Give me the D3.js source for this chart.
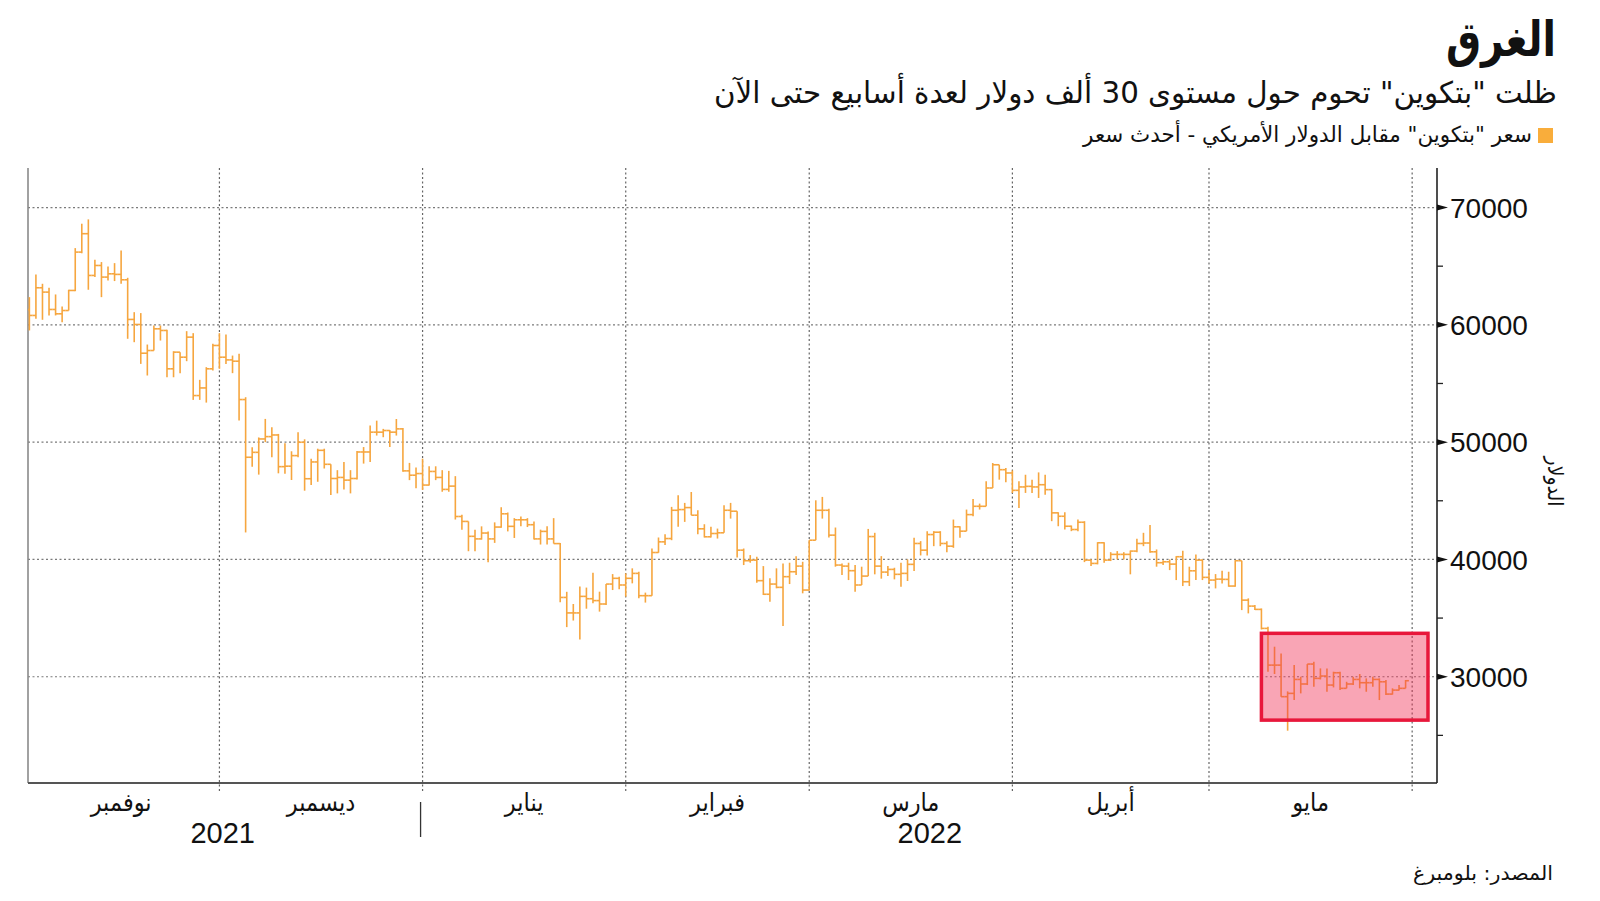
<!DOCTYPE html>
<html>
<head>
<meta charset="utf-8">
<script src="https://cdn.jsdelivr.net/npm/d3@7"></script>
<style>
  body { margin: 0; background: #fff; }
  svg { display: block; }
  .ar { font-family: "DejaVu Sans Condensed", "DejaVu Sans", sans-serif; font-stretch: condensed; }
  .num { font-family: "Liberation Sans", Arial, sans-serif; }
</style>
</head>
<body>
<svg id="chart" width="1600" height="901"></svg>
<script>
// ---- data: daily bitcoin price bars (1 Nov 2021 -> 30 May 2022)
const firstDay = "2021-11-01";

const open = [
  61300,60800,63160,62790,61310,60940,61220,62930,66200,67770,64210,65060,64070,64350,64300,63840,60460,60030,57580,57810,59660,59520,56250,57670,57240,58950,53970,54620,56250,58240,
  57240,57010,56900,53630,48710,49130,50270,50470,50610,47910,47950,48850,49990,46880,48310,49300,48110,46900,46990,46760,46900,49160,49160,50850,50850,50990,50850,51130,47550,47180,47320,
  46340,47500,46990,45970,46250,43660,43240,41970,41750,42250,41750,42760,43890,42820,43380,43380,42960,41750,42390,41750,41350,36760,35440,35440,36850,36650,36490,36200,37900,38390,37820,
  38390,38810,36910,36910,40590,41500,41780,44190,44250,44420,43770,42610,41930,42210,42270,44190,44110,40790,39890,39940,38190,37030,37900,37620,38530,38950,39430,37390,
  41640,44190,44190,42070,39520,39430,39040,37820,38580,41950,39430,38920,39150,38730,38810,39580,41360,40790,42120,42320,41360,41130,42780,42410,43820,44530,44530,46090,48070,47650,47370,
  45890,46180,46230,46180,46370,45950,43970,43680,42830,42550,43170,39940,39660,41420,39940,40430,40430,40430,40710,41360,41400,40650,39720,39800,39600,40230,38100,39030,39940,38470,
  38240,38320,38300,37730,39890,36530,36020,35740,34120,30990,30990,28300,28580,29770,29380,31080,29860,30060,29290,30340,29010,29380,29770,29490,29490,29770,29570,28520,28860,29010
];
const high = [
  62360,64300,63500,63160,62590,61570,62990,66540,68620,68990,65550,65350,64980,65260,66340,64010,61080,61000,58320,59940,59940,59570,57750,57670,59460,59290,55310,56390,58380,59290,
  59180,57380,57530,53830,49560,50400,51980,51270,50700,49900,49220,50840,50240,48590,49440,49440,48110,47610,48310,47610,49240,49580,51410,51830,51130,51040,51970,51210,48230,47830,48590,
  47940,47940,47610,47550,47100,43800,43240,42540,42820,42390,43160,44450,44000,43520,43660,43520,43240,42540,42820,43520,41410,37240,36200,37690,37600,38870,37250,37900,38750,38530,38810,
  39240,38950,37170,40930,41870,42150,44480,45470,44820,45750,44190,43000,42780,42630,44620,44820,44110,40930,40370,40230,39430,38390,39240,39660,39720,40280,39800,41640,
  45040,45330,44330,42720,39660,39720,39520,39380,42600,42270,40280,39430,39290,39720,40000,41840,41560,42410,42410,42410,41560,43400,42830,44250,45160,44760,46660,48220,48070,47790,47590,
  46660,47220,46800,47420,47220,46010,44020,44020,42890,43400,43260,40000,41470,41470,40620,40710,40620,40760,41760,42270,42930,40850,39940,40000,40280,40740,39380,40430,40000,39090,
  38750,39030,38950,39940,39890,36680,36110,35820,34260,32560,31990,28750,30990,30000,31080,31280,30710,30710,30430,30430,29570,30000,30230,29860,30000,29860,29720,29010,29290,29720
];
const low = [
  59520,60510,60430,60800,60800,60230,61220,62870,66100,62990,64070,62360,63780,63730,63500,58810,58520,56670,55680,57810,58660,55530,55530,55880,56900,53600,53600,53370,56100,56250,
  56670,55880,51840,42300,47910,47230,50000,48710,47340,47300,46770,48710,45860,46340,46620,47750,45490,45630,45970,45630,46820,48170,48310,50560,50420,49580,50560,47470,46760,46060,45920,
  46300,46760,45770,45770,43400,42540,40700,40700,41690,39770,41410,42700,42390,41830,42820,42760,41690,41270,41270,41350,36340,34230,34790,33180,35800,36260,35550,36120,37390,37450,36830,
  37960,36690,36320,36910,40570,41220,41640,42780,43200,43770,42150,41870,41870,41780,42270,43480,40170,39520,39720,38020,36970,36400,37540,34330,37900,38670,37110,37340,
  41640,43480,41870,39380,38670,38240,37250,37820,38580,38730,38360,38580,38300,37680,38160,39010,40340,40340,41130,41130,40620,40990,41840,42410,43680,44250,44530,46090,46800,46570,45670,
  44390,45670,45670,45240,45520,43260,42830,42550,42410,42410,39770,39430,39580,39720,39860,40000,40000,38730,40620,41130,40570,39380,39520,39090,38240,37730,37730,38240,38240,37950,
  37530,37950,37670,37670,35680,35400,35680,34030,30430,30230,28300,25400,28010,28580,29290,29150,29770,28720,29090,28860,29010,29290,29010,28720,29150,28010,28440,28480,28820,29010
];
const close = [
  60800,63160,62790,61310,60940,61220,62930,66200,67770,64210,65060,64070,64350,64300,63840,60460,60030,57580,57810,59660,59520,56250,57670,57240,58950,53970,54620,56250,58240,57240,
  57010,56900,53630,48710,49130,50270,50470,50610,47910,47950,48850,49990,46880,48310,49300,48110,46900,46990,46760,46900,49160,49160,50850,50850,50990,50850,51130,47550,47180,47320,46340,
  47500,46990,45970,46250,43660,43240,41970,41750,42250,41750,42760,43890,42820,43380,43380,42960,41750,42390,41750,41350,36760,35440,35440,36850,36650,36490,36200,37900,38390,37820,38390,
  38810,36910,36910,40590,41500,41780,44190,44250,44420,43770,42610,41930,42210,42270,44190,44110,40790,39890,39940,38190,37030,37900,37620,38530,38950,39430,37390,41640,
  44190,44190,42070,39520,39430,39040,37820,38580,41950,39430,38920,39150,38730,38810,39580,41360,40790,42120,42320,41360,41130,42780,42410,43820,44530,44530,46090,48070,47650,47370,45890,
  46180,46230,46180,46370,45950,43970,43680,42830,42550,43170,39940,39660,41420,39940,40430,40430,40430,40710,41360,41400,40650,39720,39800,39600,40230,38100,39030,39940,38470,38240,
  38320,38300,37730,39890,36530,36020,35740,34120,30990,30990,28300,28580,29770,29380,31080,29860,30060,29290,30340,29010,29380,29770,29490,29490,29770,29570,28520,28860,29010,29660
];

const monthNames = ["نوفمبر", "ديسمبر", "يناير", "فبراير", "مارس", "أبريل", "مايو"];
const yearNames = ["2021", "2022"];
const yTicks = [30000, 40000, 50000, 60000, 70000];
const yMinorTicks = [25000, 35000, 45000, 55000, 65000];
// the red "stuck around 30k" window
const boxFrom = "2022-05-09", boxTo = "2022-06-03", boxLow = 26300, boxHigh = 33700;

const title = "الغرق";
const subtitle = "ظلت \"بتكوين\" تحوم حول مستوى 30 ألف دولار لعدة أسابيع حتى الآن";
const legendText = "سعر \"بتكوين\" مقابل الدولار الأمريكي - أحدث سعر";
const yTitle = "الدولار";
const source = "المصدر: بلومبرغ";

// ---- layout
const plot = { left: 28, right: 1437, top: 168, bottom: 783 };
const orange = "#f6a63f";
const svg = d3.select("#chart");
const parse = d3.timeParse("%Y-%m-%d");

const day0 = parse(firstDay);
const days = close.map((c, i) => d3.timeDay.offset(day0, i));

const x = d3.scaleTime()
  .domain([new Date(2021, 10, 1, 19), new Date(2022, 5, 4, 19)])
  .range([plot.left, plot.right]);
const y = d3.scaleLinear()
  .domain([20940, 73370])
  .range([plot.bottom, plot.top]);

// bars sit at the end of their day
const barX = d => x(d3.timeDay.offset(d, 1));

// grid
const grid = svg.append("g");
grid.selectAll("line.h").data(yTicks).join("line")
  .attr("x1", plot.left).attr("x2", plot.right)
  .attr("y1", d => y(d)).attr("y2", d => y(d))
  .attr("stroke", "#7a7a7a").attr("stroke-width", 1.2).attr("stroke-dasharray", "2,2.5");
const monthStarts = d3.timeMonth.range(new Date(2021, 11, 1), new Date(2022, 5, 2));
grid.selectAll("line.v").data(monthStarts).join("line")
  .attr("x1", d => x(d)).attr("x2", d => x(d))
  .attr("y1", plot.top).attr("y2", plot.bottom + 8)
  .attr("stroke", "#666").attr("stroke-width", 1.2).attr("stroke-dasharray", "2,2.5");

// frame
svg.append("line").attr("x1", plot.left).attr("x2", plot.left)
  .attr("y1", plot.top).attr("y2", plot.bottom)
  .attr("stroke", "#8a8a8a").attr("stroke-width", 1.6);

// ohlc bars
svg.append("clipPath").attr("id", "clip").append("rect")
  .attr("x", plot.left).attr("y", plot.top)
  .attr("width", plot.right - plot.left).attr("height", plot.bottom - plot.top);
const bars = svg.append("g").attr("clip-path", "url(#clip)")
  .attr("stroke", orange).attr("stroke-width", 1.6)
  .selectAll("g").data(days).join("g");
bars.append("line")
  .attr("x1", d => barX(d)).attr("x2", d => barX(d))
  .attr("y1", (d, i) => y(high[i])).attr("y2", (d, i) => y(low[i]));
bars.append("line")
  .attr("x1", d => barX(d) - 3.3).attr("x2", d => barX(d))
  .attr("y1", (d, i) => y(open[i])).attr("y2", (d, i) => y(open[i]));
bars.append("line")
  .attr("x1", d => barX(d)).attr("x2", d => barX(d) + 3.3)
  .attr("y1", (d, i) => y(close[i])).attr("y2", (d, i) => y(close[i]));

// highlight
svg.append("rect")
  .attr("x", x(parse(boxFrom)))
  .attr("y", y(boxHigh))
  .attr("width", x(d3.timeHour.offset(parse(boxTo), 10)) - x(parse(boxFrom)))
  .attr("height", y(boxLow) - y(boxHigh))
  .attr("fill", "#f0294f").attr("fill-opacity", 0.42)
  .attr("stroke", "#e8173b").attr("stroke-width", 3.5);

svg.append("line").attr("x1", plot.left).attr("x2", plot.right)
  .attr("y1", plot.bottom).attr("y2", plot.bottom)
  .attr("stroke", "#555").attr("stroke-width", 2);

// right axis
const axis = svg.append("g").attr("transform", `translate(${plot.right},0)`);
axis.append("line").attr("y1", plot.top).attr("y2", plot.bottom)
  .attr("stroke", "#222").attr("stroke-width", 1.6);
axis.selectAll("line.minor").data(yMinorTicks).join("line")
  .attr("x2", 6).attr("y1", d => y(d)).attr("y2", d => y(d))
  .attr("stroke", "#222").attr("stroke-width", 1.3);
axis.selectAll("path.tri").data(yTicks).join("path")
  .attr("d", d => `M0,${y(d) - 3}L11,${y(d)}L0,${y(d) + 3}Z`)
  .attr("fill", "#111");
axis.selectAll("text").data(yTicks).join("text")
  .attr("class", "num")
  .attr("x", 13).attr("y", d => y(d)).attr("dy", "0.36em")
  .attr("font-size", 28).attr("fill", "#111")
  .text(d => d3.format("d")(d));

svg.append("text").attr("class", "ar")
  .attr("transform", `translate(1555,${(plot.top + plot.bottom) / 2 + 6}) rotate(90)`)
  .attr("text-anchor", "middle").attr("dy", "0.35em")
  .attr("font-size", 21).attr("fill", "#111")
  .text(yTitle);

// month and year labels
const monthBounds = d3.timeMonth.range(new Date(2021, 10, 1), new Date(2022, 5, 1));
svg.selectAll("text.month").data(monthBounds).join("text")
  .attr("class", "ar")
  .attr("x", d => (x(d) + x(d3.timeMonth.offset(d, 1))) / 2)
  .attr("y", 811)
  .attr("text-anchor", "middle")
  .attr("font-size", 25).attr("fill", "#111")
  .text((d, i) => monthNames[i]);

const jan1 = new Date(2022, 0, 1);
const yearSpans = [[new Date(2021, 10, 1), jan1], [jan1, x.domain()[1]]];
svg.selectAll("text.year").data(yearSpans).join("text")
  .attr("class", "num")
  .attr("x", d => (x(d[0]) + x(d[1])) / 2)
  .attr("y", 843)
  .attr("text-anchor", "middle")
  .attr("font-size", 29).attr("fill", "#111")
  .text((d, i) => yearNames[i]);
svg.append("line").attr("x1", x(jan1) - 2).attr("x2", x(jan1) - 2)
  .attr("y1", 802).attr("y2", 837).attr("stroke", "#333").attr("stroke-width", 1.3);

// header texts, squeezed to the width they have in the original
function placeRight(t, right, width) {
  const bb = t.node().getBBox();
  const k = width ? width / bb.width : 1;
  t.attr("transform", `translate(${right - (bb.x + bb.width) * k},0) scale(${k},1)`);
}
const tTitle = svg.append("text").attr("class", "ar")
  .attr("x", 0).attr("y", 56).attr("font-size", 49).attr("font-weight", "bold")
  .attr("fill", "#111").text(title);
placeRight(tTitle, 1556, 110);

const tSub = svg.append("text").attr("class", "ar")
  .attr("x", 0).attr("y", 103).attr("font-size", 30).attr("fill", "#111").text(subtitle);
placeRight(tSub, 1557, 843);

svg.append("rect").attr("x", 1538).attr("y", 128).attr("width", 15).attr("height", 15)
  .attr("fill", "#f9ad3b");
const tLeg = svg.append("text").attr("class", "ar")
  .attr("x", 0).attr("y", 142).attr("font-size", 22).attr("fill", "#111").text(legendText);
placeRight(tLeg, 1532, 450);

const tSrc = svg.append("text").attr("class", "ar")
  .attr("x", 0).attr("y", 880).attr("font-size", 20).attr("fill", "#111").text(source);
placeRight(tSrc, 1553, 140);
</script>
</body>
</html>
